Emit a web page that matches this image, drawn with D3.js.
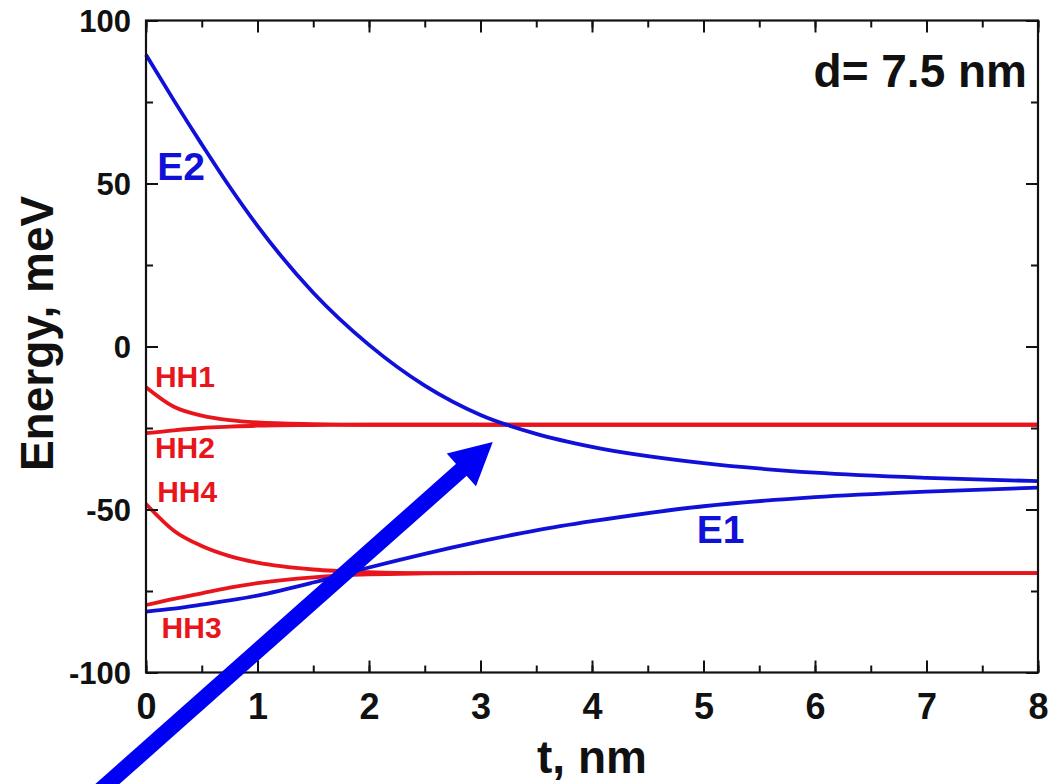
<!DOCTYPE html>
<html>
<head>
<meta charset="utf-8">
<script src="https://cdn.jsdelivr.net/npm/d3@7"></script>
<style>
  body { margin: 0; background: #fff; }
  svg { display: block; font-family: "Liberation Sans", Arial, sans-serif; font-weight: bold; }
</style>
</head>
<body>
<svg width="1050" height="784"></svg>
<script>
// thickness t (nm) where the levels were read
const tVals = [0, 0.25, 0.5, 0.75, 1, 1.5, 2, 2.5, 3, 3.5, 4, 5, 6, 7, 8];
// electron levels, meV
const e2Vals = [89.5, 75.5, 62, 49, 37, 16.5, 0.5, -12, -21, -26.8, -30.8, -35.8, -38.7, -40.3, -41.3];
const e1Vals = [-81.3, -80.4, -79.2, -77.9, -76.4, -72.4, -67.8, -63.6, -59.8, -56.4, -53.6, -49, -46.2, -44.5, -43.3];
// heavy hole levels, meV
const hh1Vals = [-12.5, -18.5, -21.2, -22.6, -23.3, -23.8, -24, -24, -24, -24, -24, -24, -24, -24, -24];
const hh2Vals = [-26.6, -25.7, -25, -24.6, -24.3, -24.1, -24, -24, -24, -24, -24, -24, -24, -24, -24];
const hh4Vals = [-48.3, -56.5, -61.2, -64.3, -66.3, -68.4, -69.2, -69.5, -69.5, -69.5, -69.5, -69.5, -69.5, -69.5, -69.5];
const hh3Vals = [-79.3, -77.4, -75.7, -74, -72.6, -70.8, -69.9, -69.6, -69.5, -69.5, -69.5, -69.5, -69.5, -69.5, -69.5];

const xTicks = [0, 1, 2, 3, 4, 5, 6, 7, 8];
const yTicks = [-100, -50, 0, 50, 100];

// curve labels, placed in data coords (t, E)
const labelNames = ["E2", "E1", "HH1", "HH2", "HH4", "HH3"];
const labelT = [0.1, 4.94, 0.08, 0.08, 0.1, 0.14];
const labelE = [51.1, -60.3, -12.4, -34.3, -47.7, -89.4];
// arrow annotation, tail then tip
const arrowT = [-0.59, 3.11];
const arrowE = [-141.6, -29.3];

const blue = "#1010d8", red = "#e8161c";

const svg = d3.select("svg");
const margin = {top: 20.5, left: 146, right: 12, bottom: 111.5}; // plot box 146..1038 x 20.5..672.5
const w = 1050, h = 784;

const x = d3.scaleLinear().domain([0, 8]).range([margin.left, w - margin.right]);
const y = d3.scaleLinear().domain([-100, 100]).range([h - margin.bottom, margin.top]);

const line = d3.line()
  .x((d, i) => x(tVals[i]))
  .y(d => y(d))
  .curve(d3.curveMonotoneX);

const series = [
  {vals: hh1Vals, color: red},
  {vals: hh2Vals, color: red},
  {vals: hh4Vals, color: red},
  {vals: hh3Vals, color: red},
  {vals: e2Vals, color: blue},
  {vals: e1Vals, color: blue}
];

svg.append("g").selectAll("path")
  .data(series)
  .enter()
  .append("path")
  .attr("d", d => line(d.vals))
  .attr("fill", "none")
  .attr("stroke", d => d.color)
  .attr("stroke-width", 3.8);

// axes: bottom/left with labels, top/right just ticks, all ticks inward
const xMinor = d3.range(0, 8.01, 0.5);
const yMinor = d3.range(-100, 100.1, 25);
const fmt = d => String(d); // plain hyphen minus like the original

function tickAxis(axisFn, scale, vals, size, withLabels) {
  return axisFn(scale).tickValues(vals).tickSizeInner(-size).tickSizeOuter(0)
    .tickFormat(withLabels ? fmt : "");
}

const gx = svg.append("g").attr("transform", "translate(0," + y(-100) + ")");
gx.call(tickAxis(d3.axisBottom, x, xMinor, 7, false));
gx.append("g").call(tickAxis(d3.axisBottom, x, xTicks, 12, true));
const gxTop = svg.append("g").attr("transform", "translate(0," + y(100) + ")");
gxTop.call(tickAxis(d3.axisTop, x, xMinor, 7, false));
gxTop.append("g").call(tickAxis(d3.axisTop, x, xTicks, 12, false));

const gy = svg.append("g").attr("transform", "translate(" + x(0) + ",0)");
gy.call(tickAxis(d3.axisLeft, y, yMinor, 7, false));
gy.append("g").call(tickAxis(d3.axisLeft, y, yTicks, 12, true));
const gyR = svg.append("g").attr("transform", "translate(" + x(8) + ",0)");
gyR.call(tickAxis(d3.axisRight, y, yMinor, 7, false));
gyR.append("g").call(tickAxis(d3.axisRight, y, yTicks, 12, false));

svg.selectAll(".domain").remove();
svg.selectAll(".tick line").attr("stroke", "#111").attr("stroke-width", 2);

gx.selectAll("text")
  .attr("font-size", 36).attr("font-family", "Liberation Sans, Arial, sans-serif")
  .attr("font-weight", "bold").attr("fill", "#111").attr("y", 0).attr("dy", 0)
  .attr("transform", "translate(0,46)");
gy.selectAll("text")
  .attr("font-size", 31).attr("font-family", "Liberation Sans, Arial, sans-serif")
  .attr("font-weight", "bold").attr("fill", "#111").attr("x", -15).attr("dy", "0.36em");

// frame
svg.append("rect")
  .attr("x", x(0)).attr("y", y(100))
  .attr("width", x(8) - x(0)).attr("height", y(-100) - y(100))
  .attr("fill", "none").attr("stroke", "#111").attr("stroke-width", 2.2);

// axis titles
svg.append("text")
  .attr("x", (x(0) + x(8)) / 2).attr("y", 773)
  .attr("text-anchor", "middle").attr("font-size", 46).attr("fill", "#111")
  .text("t, nm");
svg.append("text")
  .attr("transform", "translate(53," + y(4) + ") rotate(-90)")
  .attr("text-anchor", "middle").attr("font-size", 46).attr("fill", "#111")
  .text("Energy, meV");

svg.append("text")
  .attr("x", 1027).attr("y", 87)
  .attr("text-anchor", "end").attr("font-size", 46).attr("fill", "#111")
  .text("d= 7.5 nm");

// curve labels
svg.append("g").selectAll("text")
  .data(labelNames)
  .enter()
  .append("text")
  .attr("x", (d, i) => x(labelT[i]))
  .attr("y", (d, i) => y(labelE[i]))
  .attr("font-size", d => d[0] == "E" ? 39 : 30)
  .attr("fill", d => d[0] == "E" ? blue : red)
  .text(d => d);

// big arrow pointing at the E2 / HH crossing
const p0 = [x(arrowT[0]), y(arrowE[0])];
const p1 = [x(arrowT[1]), y(arrowE[1])];
const len = Math.hypot(p1[0] - p0[0], p1[1] - p0[1]);
const ux = (p1[0] - p0[0]) / len, uy = (p1[1] - p0[1]) / len;
const headLen = 42, headW = 22;
const base = [p1[0] - ux * headLen, p1[1] - uy * headLen];
svg.append("line")
  .attr("x1", p0[0]).attr("y1", p0[1])
  .attr("x2", base[0] + ux * 2).attr("y2", base[1] + uy * 2)
  .attr("stroke", "#0000f5").attr("stroke-width", 16);
svg.append("polygon")
  .attr("points", [p1,
    [base[0] - uy * headW, base[1] + ux * headW],
    [base[0] + uy * headW, base[1] - ux * headW]].map(p => p.join(",")).join(" "))
  .attr("fill", "#0000f5");
</script>
</body>
</html>
